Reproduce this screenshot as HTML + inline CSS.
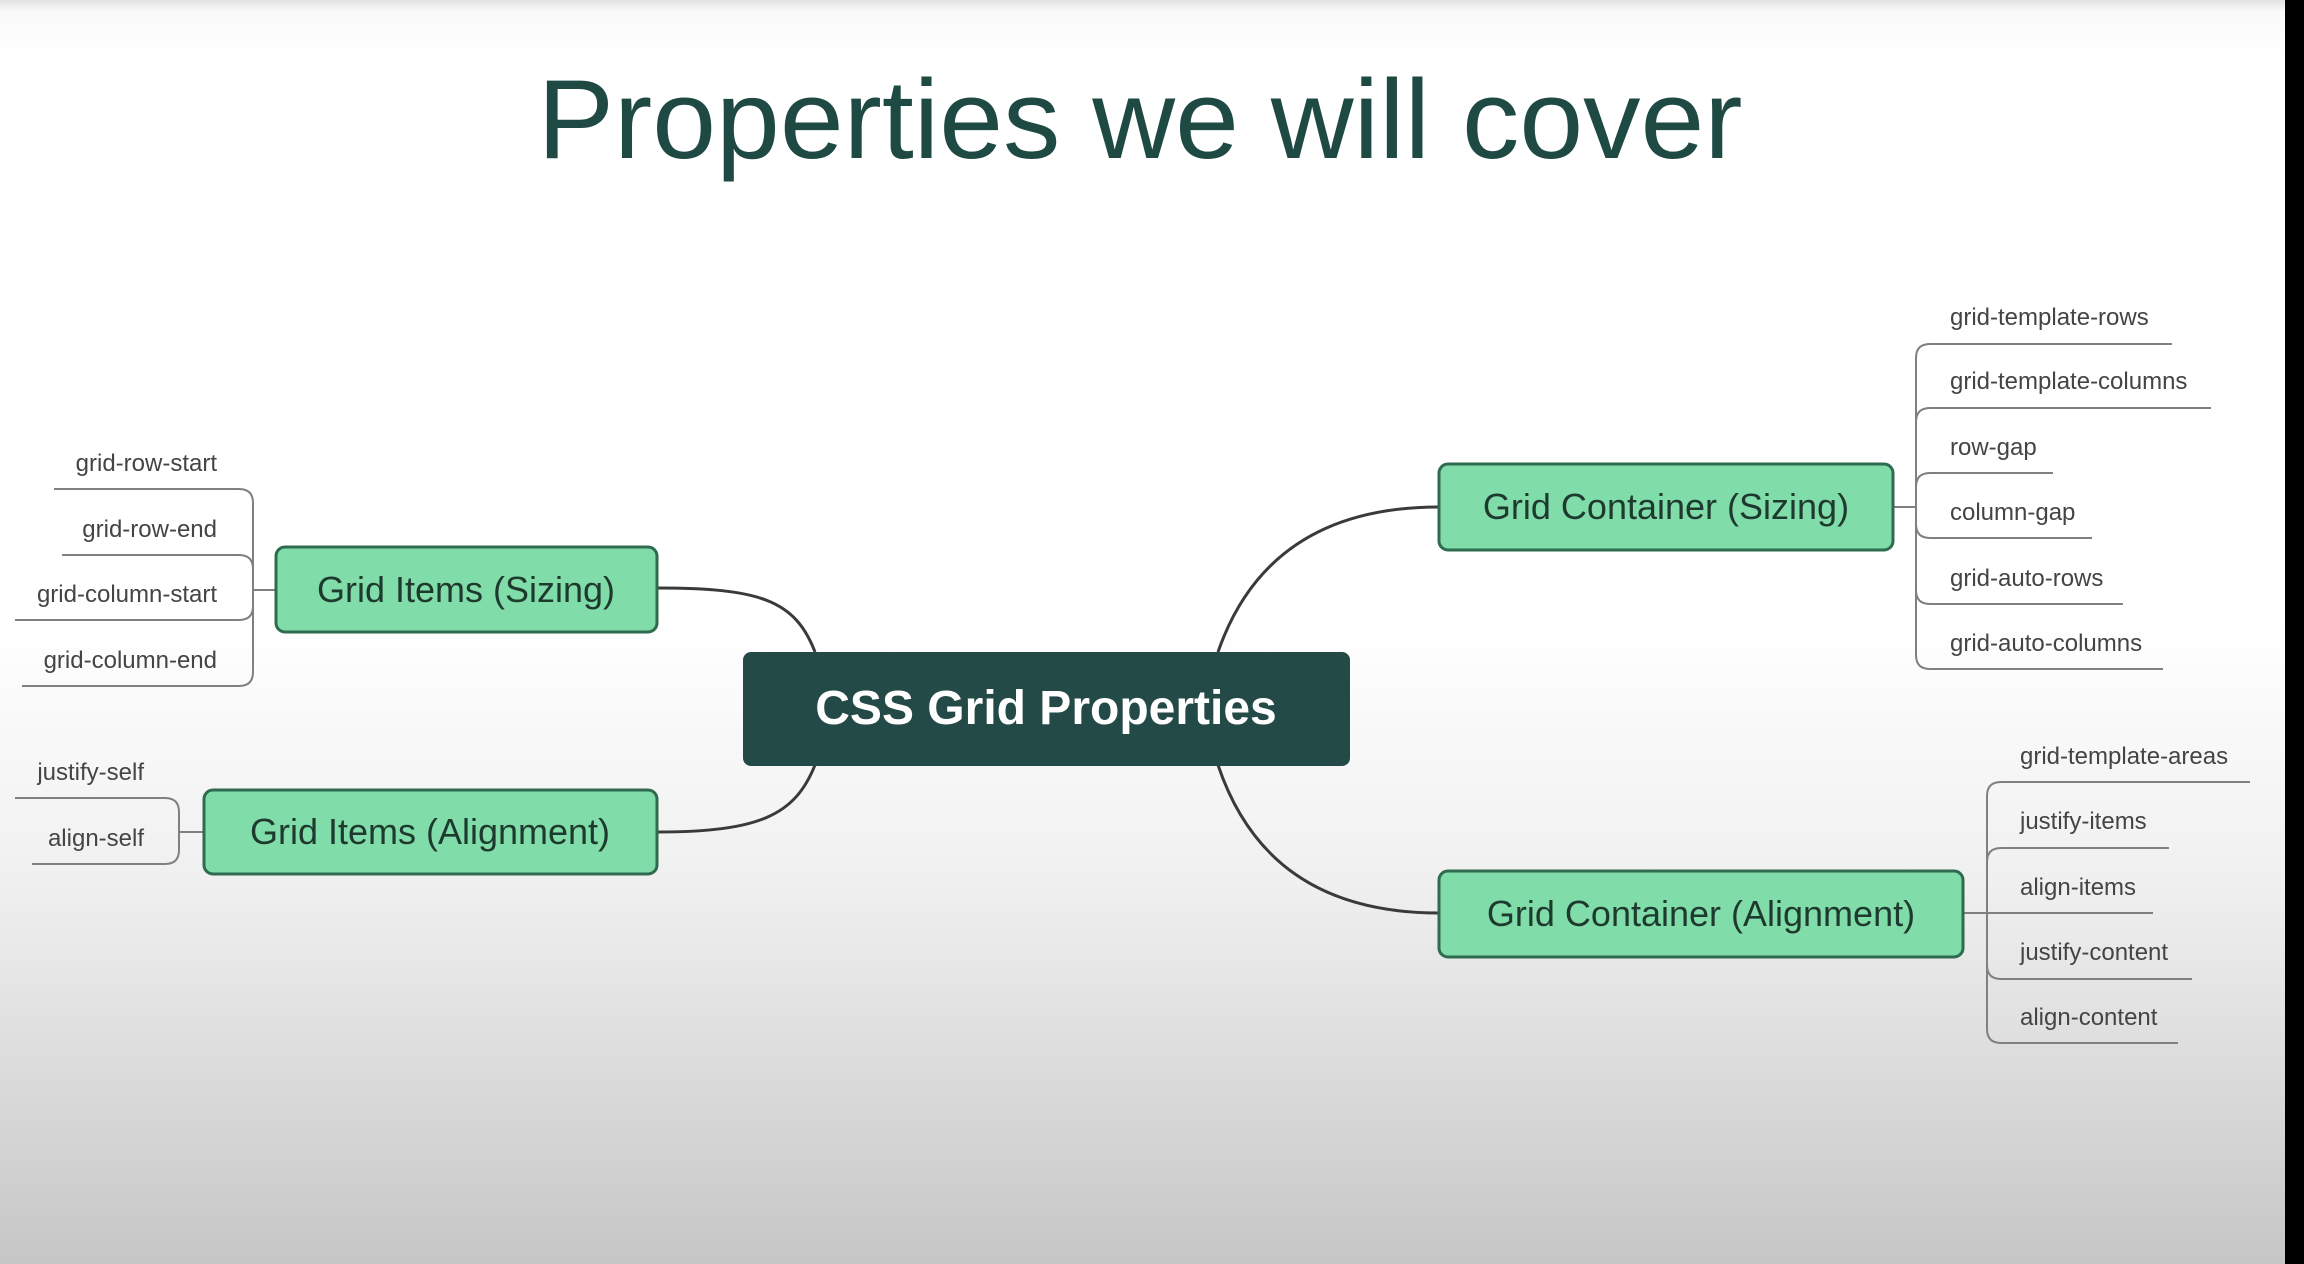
<!DOCTYPE html>
<html><head><meta charset="utf-8"><style>
html,body{margin:0;padding:0;}
body{width:2304px;height:1264px;overflow:hidden;background:linear-gradient(to bottom,#e2e2e2 0px,#fafafa 12px,#ffffff 60px,#ffffff 620px,#f0f0f0 880px,#d6d6d6 1120px,#c6c6c6 1264px);position:relative;font-family:"Liberation Sans",sans-serif;}
svg{position:absolute;left:0;top:0;}
</style></head><body>
<svg width="2304" height="1264" viewBox="0 0 2304 1264" xmlns="http://www.w3.org/2000/svg">
<rect x="2285" y="0" width="19" height="1264" fill="#000"/>
<text x="1140" y="158" text-anchor="middle" font-family="Liberation Sans, sans-serif" font-size="112" fill="#1f4a44" textLength="1205" lengthAdjust="spacingAndGlyphs">Properties we will cover</text>

<g fill="none" stroke="#3a3a3a" stroke-width="3">
<path d="M815 652 C795 600 760 588 657 588"/>
<path d="M815 765 C795 815 760 832 657 832"/>
<path d="M1218 652 C1250 560 1320 507 1439 507"/>
<path d="M1218 765 C1250 860 1320 913 1439 913"/>
</g>

<g fill="none" stroke="#808080" stroke-width="2">
<path d="M1893 507 H1916"/>
<path d="M1930 344 Q1916 344 1916 358 V655 Q1916 669 1930 669"/>
<path d="M1930 344 H2172 M1916 422 Q1916 408 1930 408 H2211 M1916 487 Q1916 473 1930 473 H2053 M1916 524 Q1916 538 1930 538 H2092 M1916 590 Q1916 604 1930 604 H2123 M1930 669 H2163"/>
<path d="M1963 913 H1987"/>
<path d="M2001 782 Q1987 782 1987 796 V1029 Q1987 1043 2001 1043"/>
<path d="M2001 782 H2250 M1987 862 Q1987 848 2001 848 H2169 M1987 913 H2153 M1987 965 Q1987 979 2001 979 H2192 M2001 1043 H2178"/>
<path d="M253 590 H276"/>
<path d="M239 489 Q253 489 253 503 V672 Q253 686 239 686"/>
<path d="M54 489 H239 M62 555 H239 Q253 555 253 569 M15 620 H239 Q253 620 253 606 M22 686 H239"/>
<path d="M179 832 H204"/>
<path d="M165 798 Q179 798 179 812 V850 Q179 864 165 864"/>
<path d="M15 798 H165 M32 864 H165"/>
</g>

<rect x="743" y="652" width="607" height="114" rx="8" fill="#234a47"/>
<text x="1046" y="724" text-anchor="middle" font-size="48" font-weight="bold" fill="#ffffff">CSS Grid Properties</text>

<g fill="#80dca8" stroke="#2e6b4f" stroke-width="3">
<rect x="276" y="547" width="381" height="85" rx="9"/>
<rect x="204" y="790" width="453" height="84" rx="9"/>
<rect x="1439" y="464" width="454" height="86" rx="9"/>
<rect x="1439" y="871" width="524" height="86" rx="9"/>
</g>
<g font-size="36" fill="#1e3a2e" text-anchor="middle">
<text x="466" y="602">Grid Items (Sizing)</text>
<text x="430" y="844">Grid Items (Alignment)</text>
<text x="1666" y="519">Grid Container (Sizing)</text>
<text x="1701" y="926">Grid Container (Alignment)</text>
</g>

<g font-size="24" fill="#444">
<text x="1950" y="325">grid-template-rows</text>
<text x="1950" y="389">grid-template-columns</text>
<text x="1950" y="455">row-gap</text>
<text x="1950" y="520">column-gap</text>
<text x="1950" y="586">grid-auto-rows</text>
<text x="1950" y="651">grid-auto-columns</text>
<text x="2020" y="764">grid-template-areas</text>
<text x="2020" y="829">justify-items</text>
<text x="2020" y="895">align-items</text>
<text x="2020" y="960">justify-content</text>
<text x="2020" y="1025">align-content</text>
</g>
<g font-size="24" fill="#444" text-anchor="end">
<text x="217" y="471">grid-row-start</text>
<text x="217" y="537">grid-row-end</text>
<text x="217" y="602">grid-column-start</text>
<text x="217" y="668">grid-column-end</text>
<text x="144" y="780">justify-self</text>
<text x="144" y="846">align-self</text>
</g>
</svg>
</body></html>
